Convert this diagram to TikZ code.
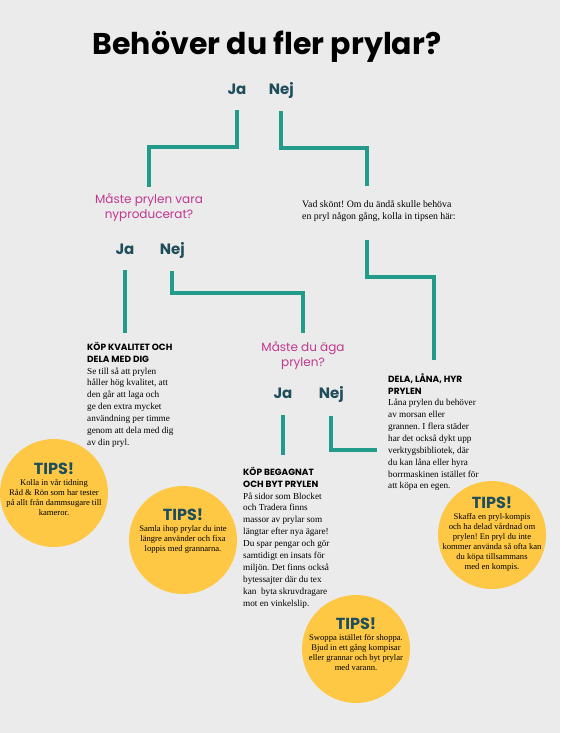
\documentclass[tikz,border=0pt]{standalone}
\usepackage{fontspec}
\setmainfont{Liberation Serif}
\newfontfamily\geofont{Poppins}
\usepackage{xcolor}
\usepackage{tikz}
\usetikzlibrary{calc,positioning}
\frenchspacing

\definecolor{bgcol}{RGB}{235,235,235}
\definecolor{linecol}{RGB}{34,155,138}
\definecolor{darkcol}{RGB}{30,77,92}
\definecolor{askcol}{RGB}{193,55,143}
\definecolor{tipcol}{RGB}{254,200,68}
\newcommand{\tipstitle}{{\geofont\bfseries\fontsize{16}{16}\selectfont\color{darkcol}TIPS!}}

\begin{document}
\begin{tikzpicture}[
    x=1pt, y=-1pt, % pixel grid, y downwards
    every node/.style={inner sep=0pt},
    answer/.style={
        font=\geofont\bfseries\fontsize{15}{15}\selectfont,
        text=darkcol},
    question/.style={
        align=center,
        font=\geofont\fontsize{12}{15}\selectfont,
        text=askcol},
    heading/.style={
        align=left,
        font=\geofont\bfseries\fontsize{9}{12}\selectfont},
    bodytext/.style={
        align=left,
        font=\fontsize{9.2}{11.9}\selectfont},
    tipbubble/.style={circle, fill=tipcol, minimum size=108pt},
    tiptext/.style={align=center, font=\fontsize{8.6}{10}\selectfont},
    link/.style={draw=linecol, line width=4pt}
  ]
  \path[use as bounding box, fill=bgcol] (0,0) rectangle (560,733);

  \node (title) [anchor=base, font=\geofont\bfseries\fontsize{30}{30}\selectfont] at (267,55) {Behöver du fler prylar?};

  % first question
  \node (ja1) [answer, anchor=base] at (237,95) {Ja};
  \node (nej1) [answer, base right=22pt of ja1] {Nej};

  \node (q1) [question, anchor=north] at (149,193) {Måste prylen vara\\nyproducerat?};
  \node (vad) [bodytext, font=\fontsize{9.8}{12}\selectfont, anchor=north west] at (302,200) {Vad skönt! Om du ändå skulle behöva\\en pryl någon gång, kolla in tipsen här:};

  % second question
  \node (ja2) [answer, anchor=base] at (125,254) {Ja};
  \node (nej2) [answer, base right=25pt of ja2] {Nej};

  \node (kop1) [heading, anchor=north west] at (87,342) {KÖP KVALITET OCH\\DELA MED DIG};
  \node (kop1txt) [bodytext, below=4.5pt of kop1.south west, anchor=north west] {Se till så att prylen\\håller hög kvalitet, att\\den går att laga och\\ge den extra mycket\\användning per timme\\genom att dela med dig\\av din pryl.};

  \node (q2) [question, anchor=north] at (303,341) {Måste du äga\\prylen?};

  % third question
  \node (ja3) [answer, anchor=base] at (283,398) {Ja};
  \node (nej3) [answer, base right=26pt of ja3] {Nej};

  \node (dela) [heading, anchor=north west] at (388,373) {DELA, LÅNA, HYR\\PRYLEN};
  \node (delatxt) [bodytext, below=4.5pt of dela.south west, anchor=north west] {Låna prylen du behöver\\av morsan eller\\grannen. I flera städer\\har det också dykt upp\\verktygsbibliotek, där\\du kan låna eller hyra\\borrmaskinen istället för\\att köpa en egen.};

  \node (kop2) [heading, anchor=north west] at (243,467) {KÖP BEGAGNAT\\OCH BYT PRYLEN};
  \node (kop2txt) [bodytext, below=4.5pt of kop2.south west, anchor=north west] {På sidor som Blocket\\och Tradera finns\\massor av prylar som\\längtar efter nya ägare!\\Du spar pengar och gör\\samtidigt en insats för\\miljön. Det finns också\\bytessajter där du tex\\kan~ byta skruvdragare\\mot en vinkelslip.};

  % connectors
  \draw[link, shorten <=15pt, shorten >=6pt] (ja1.south) -- ++(0,52) -| (q1.north);
  \draw[link, shorten <=12pt, shorten >=14pt] (nej1.south) -- ++(0,49) -| ([xshift=65pt]vad.north west);
  \draw[link, shorten <=18pt, shorten >=13pt] ([xshift=65pt]vad.south west) -- ++(0,55) -| ([xshift=46pt]dela.north west);
  \draw[link, shorten <=16pt, shorten >=9pt] (ja2.south) -- (ja2.south |- kop1.north);
  \draw[link, shorten <=13pt, shorten >=8pt] (nej2.south) -- ++(0,35) -| (q2.north);
  \draw[link, shorten <=17pt, shorten >=12pt] (ja3.south) -- (ja3.south |- kop2.north);
  \draw[link, shorten <=14pt, shorten >=11pt] (nej3.south) |- ([yshift=-5pt]delatxt.west);

  % tips
  \node (tip1) [tipbubble] at (54,493) {};
  \node (tip1txt) [tiptext] at ([yshift=4pt]tip1) {\tipstitle\\[1.5pt]Kolla in vår tidning\\Råd \& Rön som har tester\\på allt från dammsugare till\\kameror.};
  \node (tip2) [tipbubble] at (183,540) {};
  \node (tip2txt) [tiptext] at ([yshift=9pt]tip2) {\tipstitle\\[1.5pt]Samla ihop prylar du inte\\längre använder och fixa\\loppis med grannarna.};
  \node (tip3) [tipbubble] at (356,649) {};
  \node (tip3txt) [tiptext] at ([yshift=5pt]tip3) {\tipstitle\\[1.5pt]Swoppa istället för shoppa.\\Bjud in ett gång kompisar\\eller grannar och byt prylar\\med varann.};
  \node (tip4) [tipbubble] at (492,535) {};
  \node (tip4txt) [tiptext] at ([yshift=1pt]tip4) {\tipstitle\\[1.5pt]Skaffa en pryl-kompis\\och ha delad vårdnad om\\prylen! En pryl du inte\\kommer använda så ofta kan\\du köpa tillsammans\\med en kompis.};
\end{tikzpicture}
\end{document}
